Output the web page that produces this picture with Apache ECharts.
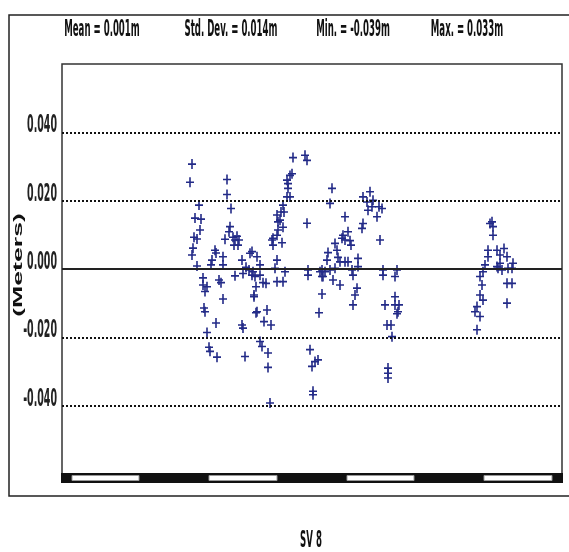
<!DOCTYPE html>
<html>
<head>
<meta charset="utf-8">
<script src="https://cdn.jsdelivr.net/npm/echarts@6/dist/echarts.min.js"></script>
<style>
html,body{margin:0;padding:0;background:#fff;}
#chart{width:569px;height:552px;}
</style>
</head>
<body>
<div id="chart"></div>
<script>
// Header statistics
const statLabels = ['Mean = 0.001m', 'Std. Dev. = 0.014m', 'Min. = -0.039m', 'Max. = 0.033m'];
// Y axis ticks
const yTickValues = [0.04, 0.02, 0, -0.02, -0.04];
const yTickLabels = ['0.040', '0.020', '0.000', '-0.020', '-0.040'];
const dottedLevels = [0.04, 0.02, -0.02, -0.04];
const zeroLevel = [0];
const yAxisTitle = '(Meters)';
const xAxisTitle = 'SV 8';
// Residual points: [epoch index, residual in meters]
const residualPoints = [
  [130,0.0307],[128,0.0254],[137,0.0187],[133,0.0149],[139,0.0146],[138,0.0114],[132,0.0093],[135,0.0088],[131,0.0061],[130,0.0041],
  [135,0.0009],[141,-0.0026],[141,-0.0047],[145,-0.0052],[143,-0.0066],[142,-0.0114],[143,-0.0125],[145,-0.0186],[147,-0.0229],[148,-0.0241],
  [155,-0.0258],[154,-0.0158],[149,0.0012],[150,0.0026],[153,0.0055],[154,0.0047],[157,-0.0032],[159,-0.0040],[161,-0.0088],[161,0.0036],
  [161,0.0012],[165,0.0262],[165,0.0218],[169,0.0177],[168,0.0124],[167,0.0109],[163,0.0087],[171,0.0093],[173,0.0085],[175,0.0096],
  [177,0.0085],[172,0.0070],[176,0.0070],[173,-0.0020],[181,-0.0013],[180,0.0026],[184,0.0005],[188,0.0046],[190,-0.0018],[192,-0.0081],
  [180,-0.0164],[181,-0.0173],[183,-0.0256],[195,0.0036],[187,-0.0003],[198,0.0012],[193,-0.0022],[198,-0.0018],[201,-0.0040],[204,-0.0042],
  [194,-0.0052],[195,-0.0125],[205,-0.0120],[202,-0.0154],[209,-0.0164],[198,-0.0212],[200,-0.0227],[206,-0.0246],[206,-0.0288],[208,-0.0392],
  [210,0.0085],[211,0.0070],[215,0.0099],[216,0.0114],[218,0.0143],[219,0.0167],[221,0.0187],[225,0.0211],[226,0.0250],[225,0.0260],
  [228,0.0274],[231,0.0326],[243,0.0333],[245,0.0318],[245,0.0134],[213,0.0002],[215,-0.0037],[221,-0.0037],[223,-0.0008],[215,0.0026],
  [230,0.0279],[226,0.0236],[228,0.0211],[222,0.0167],[215,0.0158],[216,0.0138],[221,0.0122],[211,0.0090],[220,0.0077],[190,0.0051],
  [191,-0.0008],[192,-0.0076],[194,-0.0128],[246,-0.0003],[246,-0.0018],[258,-0.0008],[260,-0.0022],[260,-0.0073],[257,-0.0128],[248,-0.0236],
  [250,-0.0285],[256,-0.0266],[253,-0.0271],[251,-0.0358],[251,-0.0368],[270,0.0236],[268,0.0192],[283,0.0153],[286,0.0109],[281,0.0099],
  [280,0.0090],[283,0.0085],[288,0.0083],[273,0.0075],[289,0.0070],[275,0.0055],[266,0.0048],[276,0.0034],[265,0.0026],[278,0.0021],
  [283,0.0021],[286,0.0021],[260,-0.0003],[263,-0.0008],[261,-0.0022],[268,-0.0003],[273,0.0002],[271,-0.0032],[278,-0.0047],[290,-0.0003],
  [291,-0.0018],[296,0.0031],[296,0.0007],[295,-0.0056],[293,-0.0076],[291,-0.0105],[301,0.0211],[308,0.0226],[305,0.0196],[310,0.0182],
  [311,0.0201],[306,0.0172],[315,0.0153],[317,0.0182],[320,0.0177],[300,0.0119],[301,0.0133],[318,0.0085],[321,-0.0003],[321,-0.0018],
  [335,-0.0003],[333,-0.0022],[323,-0.0105],[325,-0.0164],[329,-0.0164],[330,-0.0198],[333,-0.0081],[333,-0.0105],[337,-0.0105],[336,-0.0125],
  [335,-0.0131],[326,-0.0290],[326,-0.0305],[326,-0.0319],
  [430,0.0138],[428,0.0133],[431,0.0124],[431,0.0099],[426,0.0055],[426,0.0036],[423,0.0012],[421,-0.0008],[418,-0.0022],[420,-0.0047],
  [418,-0.0076],[421,-0.0091],[415,-0.0110],[413,-0.0125],[418,-0.0139],[415,-0.0178],[435,0.0055],[438,0.0041],[442,0.0060],[445,0.0036],
  [438,0.0017],[436,0.0002],[440,-0.0003],[446,0.0002],[451,0.0017],[450,0.0002],[445,-0.0042],[450,-0.0042],[445,-0.0100],[435,0.0007]
];
// Time-bar segments (epoch index ranges shown in white)
const timeBarWhite = [[10,77],[147,215],[285,352],[422,490]];
const xRange = [0, 500];

const chart = echarts.init(document.getElementById('chart'), null, {renderer: 'canvas'});
const navy = '#232b88';
const plusPath = 'path://M-0.8,-5L0.8,-5L0.8,-0.8L4,-0.8L4,0.8L0.8,0.8L0.8,5L-0.8,5L-0.8,0.8L-4,0.8L-4,-0.8L-0.8,-0.8Z';

chart.setOption({
  animation: false,
  backgroundColor: '#fff',
  grid: {left: 62, right: 7, top: 64, bottom: 78, show: true, borderColor: '#333', borderWidth: 1.5, backgroundColor: 'transparent'},
  xAxis: {type: 'value', min: xRange[0], max: xRange[1], show: false, splitLine: {show: false}},
  yAxis: {type: 'value', min: -0.06, max: 0.06, interval: 0.02,
    axisLine: {show: false}, axisTick: {show: false}, axisLabel: {show: false}, splitLine: {show: false}},
  series: [{
    type: 'scatter',
    data: residualPoints,
    symbol: plusPath,
    symbolSize: [8, 10],
    itemStyle: {color: navy, opacity: 1},
    z: 3,
    markLine: {
      silent: true,
      symbol: ['none', 'none'],
      label: {show: false},
      animation: false,
      data: dottedLevels.map(v => ({yAxis: v, lineStyle: {type: [2, 2], width: 2, color: '#111'}}))
        .concat(zeroLevel.map(v => ({yAxis: v, lineStyle: {type: 'solid', width: 2, color: '#222'}})))
    }
  }]
});

const fontNarrow = '"Liberation Sans Narrow", "DejaVu Sans Condensed", "DejaVu Sans", sans-serif';
const graphics = [];
// outer frame
graphics.push({type: 'rect', shape: {x: 9, y: 15, width: 580, height: 481}, style: {fill: 'none', stroke: '#222', lineWidth: 1.5}, z: 1});
// header stats
const statX = [102, 231, 353, 467];
statLabels.forEach((t, i) => {
  graphics.push({type: 'text', x: statX[i], y: 30, scaleX: 0.53, scaleY: 1.25,
    style: {text: t, fontSize: 18, fontWeight: 'bold', fontFamily: fontNarrow, fill: '#111', align: 'center', verticalAlign: 'middle', textAlign: 'center', textVerticalAlign: 'middle'}, z: 10});
});
// y tick labels via axis scale
yTickValues.forEach((v, i) => {
  const py = chart.convertToPixel({yAxisIndex: 0}, v);
  graphics.push({type: 'text', x: 57, y: py + 6, scaleX: 0.5, scaleY: 1.22,
    style: {text: yTickLabels[i], fontSize: 21, fontWeight: 'bold', fontFamily: fontNarrow, fill: '#222', align: 'right', verticalAlign: 'bottom', textAlign: 'right', textVerticalAlign: 'bottom'}, z: 10});
});
// y axis title
graphics.push({type: 'text', x: 18, y: 265, rotation: Math.PI / 2, scaleX: 2.05, scaleY: 1.05,
  style: {text: yAxisTitle, fontSize: 13, fontWeight: 'bold', fontFamily: '"Liberation Sans", Arial, sans-serif', fill: '#111', align: 'center', verticalAlign: 'middle', textAlign: 'center', textVerticalAlign: 'middle'}, z: 10});
// x title
graphics.push({type: 'text', x: 311, y: 541, scaleX: 0.53, scaleY: 1.25,
  style: {text: xAxisTitle, fontSize: 18, fontWeight: 'bold', fontFamily: fontNarrow, fill: '#111', align: 'center', verticalAlign: 'middle', textAlign: 'center', textVerticalAlign: 'middle'}, z: 10});
// time bar at bottom of plot
const yBottom = chart.convertToPixel({yAxisIndex: 0}, -0.06);
const xL = chart.convertToPixel({xAxisIndex: 0}, xRange[0]);
const xR = chart.convertToPixel({xAxisIndex: 0}, xRange[1]);
graphics.push({type: 'rect', shape: {x: xL - 1, y: yBottom - 1, width: xR - xL + 2, height: 10}, style: {fill: '#111'}, z: 20});
timeBarWhite.forEach(seg => {
  const a = chart.convertToPixel({xAxisIndex: 0}, seg[0]);
  const b = chart.convertToPixel({xAxisIndex: 0}, seg[1]);
  graphics.push({type: 'rect', shape: {x: a, y: yBottom + 1.5, width: b - a, height: 5}, style: {fill: '#fff', stroke: '#999', lineWidth: 1}, z: 21});
});
chart.setOption({graphic: graphics});
</script>
</body>
</html>
